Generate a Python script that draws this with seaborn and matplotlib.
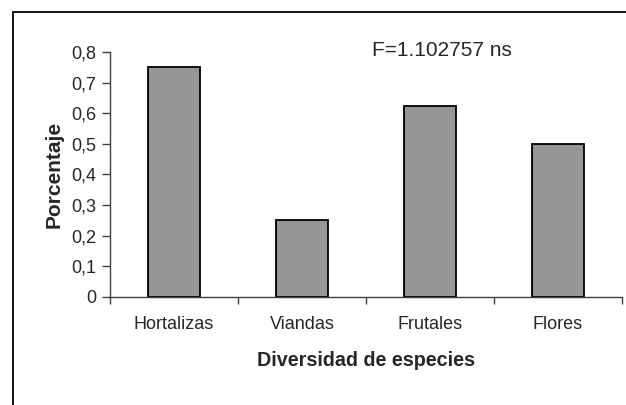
import pandas as pd
import matplotlib.pyplot as plt
import matplotlib.patches as mpatches
from matplotlib.ticker import FuncFormatter, FixedLocator
import seaborn as sns

# -----------------------------
# 1. DATA
# -----------------------------
categorias = ["Hortalizas", "Viandas", "Frutales", "Flores"]
porcentaje = [0.75, 0.25, 0.625, 0.5]
y_ticks = [0, 0.1, 0.2, 0.3, 0.4, 0.5, 0.6, 0.7, 0.8]
texto_f = "F=1.102757 ns"

df = pd.DataFrame({"especie": categorias, "valor": porcentaje})

# -----------------------------
# 2. STYLE
# -----------------------------
sns.set_style("white")
plt.rcParams["font.family"] = ["Liberation Sans", "DejaVu Sans"]

fig = plt.figure(figsize=(6.26, 4.05), dpi=100)
ax = fig.add_axes([110 / 626, 1 - 296.7 / 405, 512 / 626, (296.7 - 52) / 405])

# -----------------------------
# 3. BAR PLOT
# -----------------------------
sns.barplot(data=df, x="especie", y="valor", color="#969696", saturation=1,
            width=0.41, edgecolor="black", linewidth=1.3, ax=ax)

ax.set_xlim(-0.5, len(categorias) - 0.5)
ax.set_ylim(0, 0.8)
ax.set_yticks(y_ticks)
ax.yaxis.set_major_formatter(FuncFormatter(lambda v, p: ("%g" % round(v, 2)).replace(".", ",")))

# category ticks sit on the boundaries (Excel style), labels in the middle
ax.xaxis.set_major_locator(FixedLocator([i - 0.5 for i in range(len(categorias) + 1)]))
ax.xaxis.set_minor_locator(FixedLocator(list(range(len(categorias)))))
ax.set_xticklabels([""] * (len(categorias) + 1))
ax.set_xticklabels(categorias, minor=True)
ax.tick_params(axis="x", which="major", direction="out", length=5, width=1, color="#404040", bottom=True)
ax.tick_params(axis="x", which="minor", length=0, labelsize=13, pad=14, bottom=True)
ax.tick_params(axis="y", direction="out", length=6, width=1, color="#404040", labelsize=13, pad=4, left=True)

for side in ["top", "right"]:
    ax.spines[side].set_visible(False)
for side in ["left", "bottom"]:
    ax.spines[side].set_color("#404040")
    ax.spines[side].set_linewidth(1)

ax.set_xlabel("Diversidad de especies", fontsize=14.2, fontweight="bold", labelpad=13)
ax.set_ylabel("Porcentaje", fontsize=15, fontweight="bold", labelpad=5)

fig.text(372 / 626, 1 - 50 / 405, texto_f, fontsize=15, ha="left", va="center")

# outer frame (left and top edges visible, rest cropped)
frame = mpatches.Rectangle((13 / 626, -0.1), 2, 1 - 12 / 405 + 0.1, fill=False,
                           edgecolor="black", linewidth=1.3, transform=fig.transFigure,
                           clip_on=False)
fig.patches.append(frame)

fig.savefig("out.png", dpi=100)
